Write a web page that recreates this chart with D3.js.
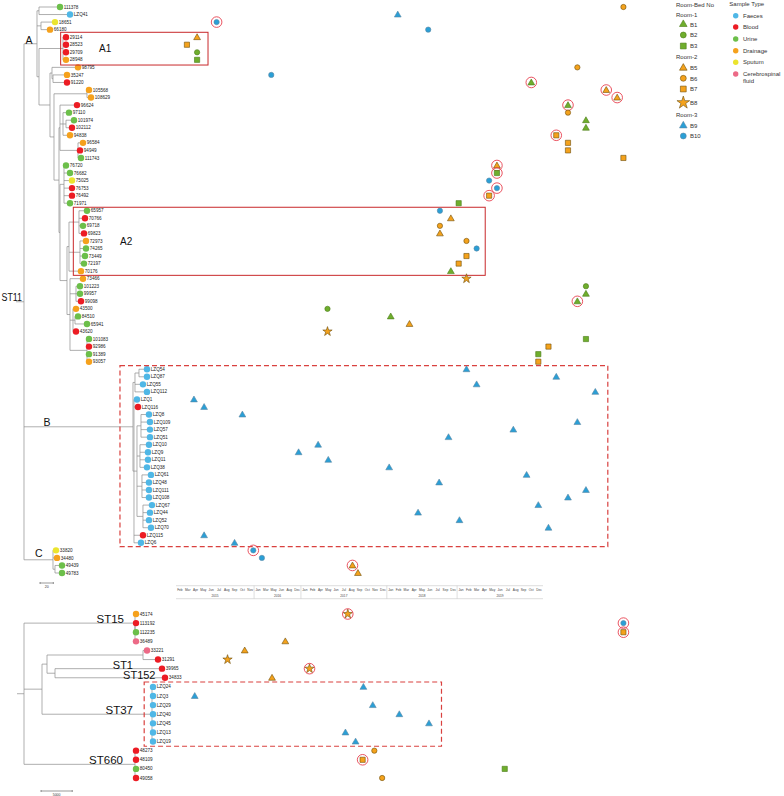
<!DOCTYPE html>
<html><head><meta charset="utf-8">
<script src="https://cdn.jsdelivr.net/npm/d3@7"></script>
<style>body{margin:0;background:#fff} svg{display:block;font-family:"Liberation Sans",Arial,sans-serif}</style>
</head><body><svg id="c" width="784" height="796"></svg>
<script>
// ---------------- DATA ----------------
// Sample types (tip dot colours)
const sampleTypeCodes = ["F","B","U","D","S","C"];
const sampleTypeNames = ["Faeces","Blood","Urine","Drainage","Sputum","Cerebrospinal fluid"];
const sampleTypeColors = ["#4fb7e6","#ec1c24","#6cbf4a","#f5a11c","#ebe42e","#ec6a87"];

// Room / bed legend
const roomNames = ["Room-1","Room-2","Room-3"];
const bedNames  = ["B1","B2","B3","B5","B6","B7","B8","B9","B10"];
const bedRoom   = [0,0,0,1,1,1,1,2,2];
const bedShape  = ["triangle","circle","square","triangle","circle","square","star","triangle","circle"];
const roomFill   = ["#6fae2d","#f4a21c","#2a9fd6"];
const roomStroke = ["#4a7a18","#6e4f0c","#5a86a3"];

// Timeline (months shown on the axis)
const years = ["2015","2016","2017","2018","2019"];
const monthsByYear = [
  ["Feb","Mar","Apr","May","Jun","Jul","Aug","Sep","Oct","Nov"],
  ["Jan","Mar","May","Jun","Aug","Dec"],
  ["Jan","Feb","Apr","May","Jun","Jul","Aug","Sep","Oct","Nov","Dec"],
  ["Jan","Feb","Mar","Apr","May","Jun","Jul","Sep","Dec"],
  ["Jan","Feb","Mar","Apr","May","Jun","Jul","Aug","Sep","Oct","Dec"]
];

// Trees (Newick, name|sampleType:branchLength)
const newickST11 =
 "((" +
   "((111378|U:31.5,LZQ41|F:46.5):3,(18651|S:21,66180|D:13.5):6," +
   "((29114|B:4.5,28523|B:4.5,29709|B:4.5,28948|D:4.5):36," +
    "((98795|D:39,(35247|D:21,91220|B:21):1.5):3," +
     "((105568|D:3,108629|D:6):49.5," +
      "((96624|B:25.5,(97110|U:9,(101974|U:12,102112|B:9):4.5,94838|D:10.5):4.5,(96584|D:7.5,94949|B:3,111743|U:4.5):27):1.5," +
       "((76720|U:3,76682|U:9,75025|S:12,76753|B:12,76492|B:12,71971|U:9):6," +
        "(((65957|U:12,70766|B:9,69718|U:6,69823|B:7.5):15,(72973|D:9,74265|U:9,73449|U:7.5,72197|U:6):16.5,70176|D:18):3," +
         "(73466|D:19.5,(101223|U:6,99957|U:6,99098|B:7.5):9,(43500|D:4.5,(84510|U:4.5,65941|U:18):3,43620|B:4.5):4.5," +
          "(101083|U:3,92986|B:3,91389|U:3,93057|D:3):25.5):4.5):10.5):1.5):7.5):6):16.5):3):19.5," +
   "(((LZQ54|F:12,LZQ87|F:12):6,LZQ55|F:12,LZQ112|F:18):3," +
    "(LZQ1|F:4.5,LZQ116|B:6," +
     "((LZQ8|F:12,LZQ109|F:13.5,LZQ57|F:13.5,LZQ51|F:13.5):6,(LZQ10|F:13.5,LZQ9|F:12,LZQ11|F:12,LZQ38|F:10.5):4.5," +
      "(LZQ61|F:13.5,LZQ48|F:10.5,LZQ111|F:10.5,LZQ108|F:10.5):7.5,(LZQ67|F:13.5,LZQ44|F:10.5,LZQ52|F:9,LZQ70|F:12):9):4.5," +
     "LZQ115|B:13.5,LZQ6|F:10.5):1.5):163.5," +
   "(33820|S:4.5,34480|D:6,(49439|U:10.5,49783|U:10.5):3):43.5" +
 "):12);";

const newickOther =
 "((" +
   "(45174|D:160,(113192|B:160,112235|U:160,36489|C:160):0):17760," +
   "(((33221|C:640,31291|B:2400):15360,(39965|B:17120,34833|B:17600):1280):800," +
    "(LZQ24|F:160,LZQ3|F:160,LZQ29|F:160,LZQ40|F:160,LZQ45|F:160,LZQ13|F:160,LZQ19|F:160):17600):2880," +
   "(48273|B:160,48109|B:160,80450|U:160,49058|B:160):17760" +
 "):1120);";

// Isolation events: [tip, time (months from Feb 2015), bed, circled]
const eventsCladeA = [
 ["111378",57.3,"B6",0],["LZQ41",28.4,"B9",0],["18651",5.2,"B10",1],["66180",32.3,"B10",0],
 ["29114",2.7,"B5",0],["28523",1.4,"B7",0],["29709",2.7,"B2",0],["28948",2.7,"B3",0],
 ["98795",51.4,"B6",0],["35247",12.2,"B10",0],["91220",45.5,"B1",1],["105568",55.1,"B5",1],
 ["108629",56.5,"B5",1],["96624",50.2,"B1",1],["97110",50.2,"B6",0],["101974",52.5,"B1",0],
 ["102112",52.5,"B1",0],["94838",48.7,"B7",1],["96584",50.2,"B7",0],["94949",50.2,"B7",0],
 ["111743",57.3,"B7",0],["76720",41.1,"B5",1],["76682",41.1,"B3",1],["75025",40.1,"B10",0],
 ["76753",41.1,"B10",1],["76492",40.1,"B7",1],["71971",36.2,"B3",0],["65957",33.8,"B10",0],
 ["70766",35.2,"B5",0],["69718",33.8,"B6",0],["69823",33.8,"B5",0],["72973",37.2,"B6",0],
 ["74265",38.5,"B10",0],["73449",37.2,"B7",0],["72197",36.2,"B7",0],["70176",35.2,"B1",0],
 ["73466",37.2,"B8",0],["101223",52.5,"B2",0],["99957",52.5,"B1",0],["99098",51.4,"B1",1],
 ["43500",19.4,"B2",0],["84510",27.5,"B1",0],["65941",29.9,"B5",0],["43620",19.4,"B8",0],
 ["101083",52.5,"B3",0],["92986",47.7,"B7",0],["91389",46.4,"B3",0],["93057",46.4,"B7",0]
];
const eventsCladeB = [
 ["LZQ54",37.2],["LZQ87",48.7],["LZQ55",38.5],["LZQ112",53.7],["LZQ1",2.3],["LZQ116",3.6],
 ["LZQ8",8.5],["LZQ109",51.4],["LZQ57",43.2],["LZQ51",34.9],["LZQ10",18.2],["LZQ9",15.7],
 ["LZQ11",19.5],["LZQ38",27.3],["LZQ61",44.9],["LZQ48",33.7],["LZQ111",52.5],["LZQ108",50.2],
 ["LZQ67",46.4],["LZQ44",31.0],["LZQ52",36.3],["LZQ70",47.7],["LZQ115",3.6],["LZQ6",7.5]
];
const eventsCladeC = [
 ["33820",9.9,"B10",1],["34480",11.0,"B10",0],["49439",22.6,"B5",1],["49783",23.3,"B5",0]
];
const eventsOtherST = [
 ["45174",22.0,"B8",1],["113192",57.3,"B10",1],["112235",57.3,"B7",1],["36489",14.0,"B5",0],
 ["33221",8.8,"B5",0],["31291",6.6,"B8",0],["39965",17.1,"B8",1],["34833",12.3,"B5",0],
 ["LZQ24",24.0,"B9",0],["LZQ3",2.4,"B9",0],["LZQ29",25.2,"B9",0],["LZQ40",28.6,"B9",0],
 ["LZQ45",32.4,"B9",0],["LZQ13",21.7,"B9",0],["LZQ19",23.0,"B9",0],
 ["48273",25.4,"B6",0],["48109",23.9,"B7",1],["80450",42.1,"B3",0],["49058",26.4,"B6",0]
];

// ---------------- HELPERS ----------------
function parseNewick(s){
  let i=0;
  function node(){
    const n={children:[]};
    if(s[i]==='('){
      i++;
      while(true){ n.children.push(node()); if(s[i]===','){i++;} else break; }
      i++;
    }
    let name=''; while(i<s.length && !',():;'.includes(s[i])) name+=s[i++];
    const parts=name.split('|'); n.name=parts[0]; n.type=parts[1]||null;
    n.length=0;
    if(s[i]===':'){ i++; let num=''; while(i<s.length && !',();'.includes(s[i])) num+=s[i++]; n.length=+num; }
    return n;
  }
  return node();
}
function layoutTree(newick, xs, ys){
  const root=d3.hierarchy(parseNewick(newick), d=>d.children.length?d.children:null);
  root.eachBefore(n=>{ n.dist=(n.parent?n.parent.dist:0)+n.data.length; n.x=xs(n.dist); });
  root.leaves().forEach((l,i)=>{ l.y=ys(i); });
  root.eachAfter(n=>{ if(n.children){ n.y=(n.children[0].y+n.children[n.children.length-1].y)/2; } });
  return root;
}
const typeColor = c => sampleTypeColors[sampleTypeCodes.indexOf(c)];
const symTypes = {triangle:d3.symbolTriangle, circle:d3.symbolCircle, square:d3.symbolSquare, star:d3.symbolStar};
const symSize = {triangle:20, circle:22, square:27, star:27};

const svg=d3.select("#c");
const gTree=svg.append("g"), gBox=svg.append("g"), gMark=svg.append("g"), gTxt=svg.append("g");

// ---------------- SCALES ----------------
const xST11 = d3.scaleLinear().domain([0,20]).range([16,29.33]);
const yST11 = d3.scaleLinear().domain([0,75]).range([7,573]);
const xOther = d3.scaleLinear().domain([0,5000]).range([17,48.25]);
const yOther = d3.scaleLinear().domain([0,18]).range([614,778]);
const nMonths = d3.sum(monthsByYear, m=>m.length);
const xTime = d3.scaleLinear().domain([0,nMonths]).range([176,543]);

const t1 = layoutTree(newickST11, xST11, yST11);
const t2 = layoutTree(newickOther, xOther, yOther);

function drawTree(root){
  const segs=[];
  root.each(n=>{
    if(n.parent) segs.push(`M${n.parent.x},${n.y}H${n.x}`);
    if(n.children && n.children.length>1) segs.push(`M${n.x},${n.children[0].y}V${n.children[n.children.length-1].y}`);
  });
  gTree.append("path").attr("d",segs.join("")).attr("fill","none").attr("stroke","#8c8c8c").attr("stroke-width",0.7);
  const leaves=root.leaves();
  gTree.selectAll(null).data(leaves).enter().append("circle")
    .attr("cx",d=>d.x).attr("cy",d=>d.y).attr("r",3.2).attr("fill",d=>typeColor(d.data.type));
  gTxt.selectAll(null).data(leaves).enter().append("text")
    .attr("x",d=>d.x+3.8).attr("y",d=>d.y+1.6).attr("font-size",4.6).attr("fill","#222")
    .text(d=>d.data.name);
}
drawTree(t1); drawTree(t2);
const tipY = {};
t1.leaves().forEach(l=>tipY[l.data.name]=l.y);
t2.leaves().forEach(l=>tipY[l.data.name]=l.y);

// ---------------- CLADE BOXES ----------------
function tipRange(root, first, last){
  const a=root.leaves().find(l=>l.data.name===first), b=root.leaves().find(l=>l.data.name===last);
  return [a.y,b.y];
}
const boxes = [
  {tree:t1, first:"29114", last:"28948", left:xST11(67), right:4.1, dash:null, label:"A1", lx:99, pad:[4.9,5.2]},
  {tree:t1, first:"65957", last:"70176", left:xST11(86), right:39.6, dash:null, label:"A2", lx:120, pad:[3.5,4.2]},
  {tree:t1, first:"LZQ54", last:"LZQ6", left:xST11(156), right:55.3, dash:"5,3", label:null, pad:[3.6,3.9]},
  {tree:t2, first:"LZQ24", last:"LZQ19", left:xOther(20350), right:34, dash:"5,3", label:null, pad:[4.9,4.7]}
];
boxes.forEach(b=>{
  const [y0,y1]=tipRange(b.tree,b.first,b.last);
  const top=y0-b.pad[0], bot=y1+b.pad[1], r=xTime(b.right);
  gBox.append("rect").attr("x",b.left).attr("y",top).attr("width",r-b.left).attr("height",bot-top)
    .attr("fill","none").attr("stroke",b.dash?"#d9413f":"#c8282a").attr("stroke-width",b.dash?1.2:1)
    .attr("stroke-dasharray",b.dash);
  if(b.label) gTxt.append("text").attr("x",b.lx).attr("y",(top+bot)/2+3.5).attr("font-size",10).attr("fill","#111").text(b.label);
});

// ---------------- GROUP LABELS ----------------
const S = t1.children[0];
const [cA,cB,cC] = S.children;
const groupLabels = [
  {t:"A", x:cA.parent.x+8.5, y:cA.y, fs:10.5},
  {t:"B", x:50.5, y:cB.y-1, fs:10.5},
  {t:"C", x:42.5, y:cC.y-2.5, fs:10.5},
  {t:"ST11", x:22, y:S.y-0.5, fs:10, len:20.5}
];
const N0 = t2.children[0];
const [st15, n1, st660] = N0.children;
const [n2, st37] = n1.children;
const p2 = n2.children[1];
groupLabels.push(
  {t:"ST15", x:st15.x-11, y:st15.y, fs:11.5},
  {t:"ST1", x:p2.children[0].x-29, y:p2.children[0].y, fs:11},
  {t:"ST152", x:p2.children[1].x-9.5, y:p2.children[1].y+1, fs:11},
  {t:"ST37", x:st37.x-19, y:st37.y, fs:11.5},
  {t:"ST660", x:st660.x-12, y:st660.y, fs:11.5}
);
gTxt.selectAll(null).data(groupLabels).enter().append("text")
  .attr("x",d=>d.x).attr("y",d=>d.y).attr("text-anchor","end").attr("font-size",d=>d.fs).attr("fill","#111")
  .attr("textLength",d=>d.len||null).attr("lengthAdjust","spacingAndGlyphs").text(d=>d.t);

// ---------------- SCALE BARS ----------------
function scaleBar(xs, d, y, label){
  const x0=xs(0)+24, x1=xs(d)+24;
  gTree.append("path").attr("d",`M${x0},${y-1}V${y+1}M${x0},${y}H${x1}M${x1},${y-1}V${y+1}`).attr("stroke","#333").attr("stroke-width",0.5).attr("fill","none");
  gTxt.append("text").attr("x",(x0+x1)/2).attr("y",y+4.5).attr("text-anchor","middle").attr("font-size",3.5).attr("fill","#333").text(label);
}
scaleBar(xST11,20,583,"20");
scaleBar(xOther,5000,791,"5000");

// ---------------- MARKERS ----------------
function bedStyle(bed){
  const i=bedNames.indexOf(bed);
  return {shape:bedShape[i], fill:roomFill[bedRoom[i]], stroke:roomStroke[bedRoom[i]]};
}
const events = eventsCladeA.concat(eventsCladeB.map(d=>[d[0],d[1],"B9",0]), eventsCladeC, eventsOtherST);
function drawSym(g, x, y, shape, size, fill, stroke){
  g.append("path").attr("d",d3.symbol().type(symTypes[shape]).size(size)())
    .attr("transform",`translate(${x},${y})`).attr("fill",fill).attr("stroke",stroke).attr("stroke-width",0.6);
}
events.forEach(e=>{
  const st=bedStyle(e[2]); const x=xTime(e[1]), y=tipY[e[0]];
  drawSym(gMark, x, y+(st.shape==="triangle"?0.5:0), st.shape, symSize[st.shape], st.fill, st.stroke);
  if(e[3]) gMark.append("circle").attr("cx",x).attr("cy",y).attr("r",5.3).attr("fill","none").attr("stroke","#e8414f").attr("stroke-width",0.9);
});

// ---------------- TIME AXIS ----------------
const axY=585.7;
const gAx=svg.append("g");
gAx.append("path").attr("d",`M${xTime(0)},${axY}H${xTime(nMonths)}M${xTime(0)},${axY+13}H${xTime(nMonths)}`).attr("stroke","#c8c8c8").attr("stroke-width",0.6);
let k=0;
monthsByYear.forEach((ms,yi)=>{
  const start=k;
  ms.forEach(m=>{
    gAx.append("text").attr("x",xTime(k+0.5)).attr("y",axY+5.6).attr("text-anchor","middle").attr("font-size",3.2).attr("fill","#444").text(m);
    k++;
  });
  gAx.append("text").attr("x",xTime((start+k)/2)).attr("y",axY+11.5).attr("text-anchor","middle").attr("font-size",3.2).attr("fill","#444").text(years[yi]);
  if(yi>0) gAx.append("path").attr("d",`M${xTime(start)},${axY}V${axY+13}`).attr("stroke","#c8c8c8").attr("stroke-width",0.6);
});

// ---------------- LEGEND ----------------
const gL=svg.append("g").attr("font-size",6).attr("fill","#333");
gL.append("text").attr("x",676).attr("y",6.5).text("Room-Bed No");
const roomY=[16.5,58.7,116.7];
roomNames.forEach((r,i)=>gL.append("text").attr("x",676).attr("y",roomY[i]).text(r));
const bedY=[24.3,35,46,68,78.3,89,102.7,125.7,136];
bedNames.forEach((b,i)=>{
  const st=bedStyle(b);
  const big=st.shape==="star";
  drawSym(gL, 683.3, bedY[i], st.shape, big?50:symSize[st.shape]*1.25, st.fill, st.stroke);
  gL.append("text").attr("x",690).attr("y",bedY[i]+2.2).text(b);
});
gL.append("text").attr("x",729.3).attr("y",5.8).text("Sample Type");
const stY=[15.7,27,39,50.7,62.3,74];
sampleTypeNames.forEach((n,i)=>{
  gL.append("circle").attr("cx",735.7).attr("cy",stY[i]).attr("r",2.7).attr("fill",sampleTypeColors[i]);
  const words = n==="Cerebrospinal fluid" ? ["Cerebrospinal","fluid"] : [n];
  words.forEach((w,j)=>gL.append("text").attr("x",743).attr("y",stY[i]+2+j*6.8).text(w));
});
</script></body></html>
